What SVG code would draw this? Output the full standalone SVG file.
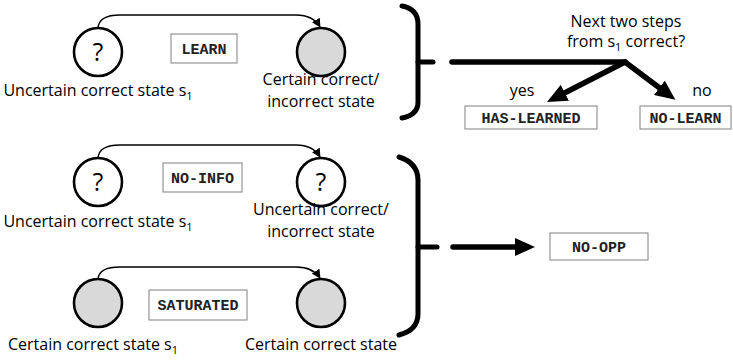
<svg xmlns="http://www.w3.org/2000/svg" width="733" height="360" viewBox="0 0 733 360">
  <style>
    .lbl { font-family: "Open Sans", "Noto Sans", sans-serif; font-size: 16px; fill: #000; }
    .q { font-family: "Open Sans", "Noto Sans", sans-serif; font-size: 25px; fill: #000; text-anchor: middle; }
    .state { stroke: #000; stroke-width: 2.6; fill: #fff; }
    .state.known { fill: #d9d9d9; }
    .tag rect { fill: #fff; stroke: #808080; stroke-width: 1; }
    .tag text { font-family: "Liberation Mono", "Courier New", monospace; font-weight: bold; font-size: 15px; fill: #222; text-anchor: middle; }
    .trans { fill: none; stroke: #000; stroke-width: 1.3; }
    .heavy { fill: none; stroke: #000; stroke-width: 5.5; stroke-linecap: round; }
    .brace { fill: none; stroke: #000; stroke-width: 5; stroke-linecap: round; stroke-linejoin: round; }
  </style>
  <defs>
    <marker id="thin" viewBox="0 0 10 10" refX="9" refY="5" markerWidth="9" markerHeight="9" markerUnits="userSpaceOnUse" orient="auto">
      <path d="M0,0 L10,5 L0,10 z" fill="#000"/>
    </marker>
    <marker id="thick" viewBox="0 0 20 18" refX="7" refY="9" markerWidth="20" markerHeight="18" markerUnits="userSpaceOnUse" orient="auto">
      <path d="M0,0 L20,9 L0,18 z" fill="#000"/>
    </marker>
  </defs>

  <!-- row 1: LEARN -->
  <g id="s1-uncertain-a">
    <circle class="state" cx="98" cy="52" r="24"/>
    <text class="q" x="98" y="61">?</text>
    <text class="lbl" x="98" y="96" text-anchor="middle">Uncertain correct state s<tspan font-size="11" dy="4">1</tspan></text>
  </g>
  <g id="tag-learn" class="tag">
    <rect x="171" y="34" width="66" height="29"/>
    <text x="204" y="53.5">LEARN</text>
  </g>
  <g id="s2-certain-a">
    <circle class="state known" cx="321" cy="52" r="24"/>
    <text class="lbl" x="321" y="85" text-anchor="middle">Certain correct/</text>
    <text class="lbl" x="321" y="107" text-anchor="middle">incorrect state</text>
  </g>

  <!-- row 2: NO-INFO -->
  <g id="s1-uncertain-b">
    <circle class="state" cx="98" cy="182" r="24"/>
    <text class="q" x="98" y="191">?</text>
    <text class="lbl" x="98" y="227" text-anchor="middle">Uncertain correct state s<tspan font-size="11" dy="4">1</tspan></text>
  </g>
  <g id="tag-noinfo" class="tag">
    <rect x="163" y="163" width="79" height="29"/>
    <text x="202.5" y="182.5">NO-INFO</text>
  </g>
  <g id="s2-uncertain-b">
    <circle class="state" cx="321" cy="182" r="24"/>
    <text class="q" x="321" y="191">?</text>
    <text class="lbl" x="321" y="215" text-anchor="middle">Uncertain correct/</text>
    <text class="lbl" x="321" y="237" text-anchor="middle">incorrect state</text>
  </g>

  <!-- row 3: SATURATED -->
  <g id="s1-certain-c">
    <circle class="state known" cx="98" cy="303" r="24"/>
    <text class="lbl" x="93" y="350" text-anchor="middle">Certain correct state s<tspan font-size="11" dy="4">1</tspan></text>
  </g>
  <g id="tag-saturated" class="tag">
    <rect x="149" y="290" width="98" height="30"/>
    <text x="198" y="310">SATURATED</text>
  </g>
  <g id="s2-certain-c">
    <circle class="state known" cx="321" cy="303" r="24"/>
    <text class="lbl" x="321" y="350" text-anchor="middle">Certain correct state</text>
  </g>

  <!-- outcome labels -->
  <g id="question">
    <text class="lbl" x="626" y="27" text-anchor="middle">Next two steps</text>
    <text class="lbl" x="626" y="47" text-anchor="middle">from s<tspan font-size="11" dy="4">1</tspan><tspan dy="-4"> correct?</tspan></text>
  </g>
  <g id="out-haslearned" class="tag">
    <rect x="465" y="106" width="132" height="23"/>
    <text x="531" y="122.5">HAS-LEARNED</text>
  </g>
  <g id="out-nolearn" class="tag">
    <rect x="640" y="106" width="91" height="23"/>
    <text x="685.5" y="122.5">NO-LEARN</text>
  </g>
  <g id="out-noopp" class="tag">
    <rect x="550" y="233" width="98" height="27"/>
    <text x="599" y="251.5">NO-OPP</text>
  </g>

  <!-- grouping braces -->
  <g id="brace-top">
    <path class="brace" d="M402,6 Q418,9 418,24 L418,102 Q418,115 402,118"/>
    <path class="brace" d="M418,62 L433,62"/>
  </g>
  <g id="brace-bottom">
    <path class="brace" d="M399,157 Q418,163 418,180 L418,314 Q418,330 399,335"/>
    <path class="brace" d="M418,247 L437,247"/>
  </g>

  <g id="connectors">
    <path class="trans" marker-end="url(#thin)" d="M98,28 Q99,15 120,15 L296,15 Q313,15 320,27"/>
    <path class="trans" marker-end="url(#thin)" d="M98,158 Q99,145 120,145 L296,145 Q313,145 320,157"/>
    <path class="trans" marker-end="url(#thin)" d="M98,279 Q99,267 120,267 L296,267 Q313,267 320,278"/>
    <path class="heavy" d="M452,62 L625,62"/>
    <path class="heavy" marker-end="url(#thick)" d="M625,62 L558.6,96"/>
    <path class="heavy" marker-end="url(#thick)" d="M625,62 L665,92"/>
    <path class="heavy" marker-end="url(#thick)" d="M453,247 L522,247"/>
    <text class="lbl" x="522" y="96" text-anchor="middle">yes</text>
    <text class="lbl" x="702" y="96" text-anchor="middle">no</text>
  </g>
</svg>
